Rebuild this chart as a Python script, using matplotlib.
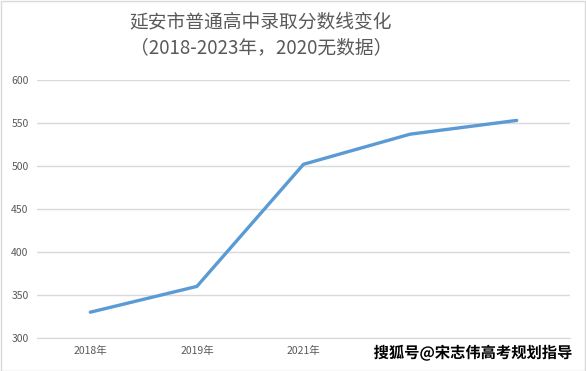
import matplotlib
matplotlib.use("Agg")
import matplotlib.pyplot as plt
import matplotlib.patheffects as pe

plt.rcParams['font.family'] = ['Noto Sans CJK SC', 'DejaVu Sans']

categories = ["2018年", "2019年", "2021年", "2022年", "2023年"]
scores = [330, 360, 502, 537, 553]
yticks = [300, 350, 400, 450, 500, 550, 600]

W, H = 586, 371
fig = plt.figure(figsize=(W / 100, H / 100), dpi=100)
ax = fig.add_axes([37 / W, 1 - 338 / H, (570 - 37) / W, (338 - 80) / H])

x = list(range(len(categories)))
ax.plot(x, scores, color="#5B9BD5", linewidth=2.4, solid_capstyle="round", zorder=3)
ax.set_xlim(-0.5, len(categories) - 0.5)
ax.set_ylim(300, 600)
ax.set_yticks(yticks)
ax.set_xticks(x)
ax.set_xticklabels(categories)
ax.grid(axis="y", color="#D9D9D9", linewidth=1)
ax.set_axisbelow(True)
for s in ["top", "right", "left"]:
    ax.spines[s].set_visible(False)
ax.spines["bottom"].set_color("#D9D9D9")
ax.tick_params(axis="both", length=0, labelsize=7.5, colors="#595959")
ax.tick_params(axis="y", pad=6)
ax.tick_params(axis="x", pad=6)

fig.text(261 / W, 1 - 22 / H, "延安市普通高中录取分数线变化", ha="center", va="center",
         fontsize=13.5, color="#595959")
fig.text(261 / W, 1 - 48 / H, "（2018-2023年，2020无数据）", ha="center", va="center",
         fontsize=13.5, color="#595959")

# figure border
fig.patches.append(plt.Rectangle((0.5 / W, 0.5 / H), 1 - 1.5 / W, 1 - 1.5 / H,
                                 transform=fig.transFigure, fill=False,
                                 edgecolor="#D9D9D9", linewidth=1))

fig.text(572 / W, 1 - 353 / H, "搜狐号@宋志伟高考规划指导", ha="right", va="center",
         fontsize=11, color="black", fontweight="bold", zorder=10,
         bbox=dict(boxstyle="square,pad=0.1", facecolor="white", edgecolor="none"),
         path_effects=[pe.withStroke(linewidth=2.5, foreground="white")])

fig.savefig("out.png", dpi=100, facecolor="white")
